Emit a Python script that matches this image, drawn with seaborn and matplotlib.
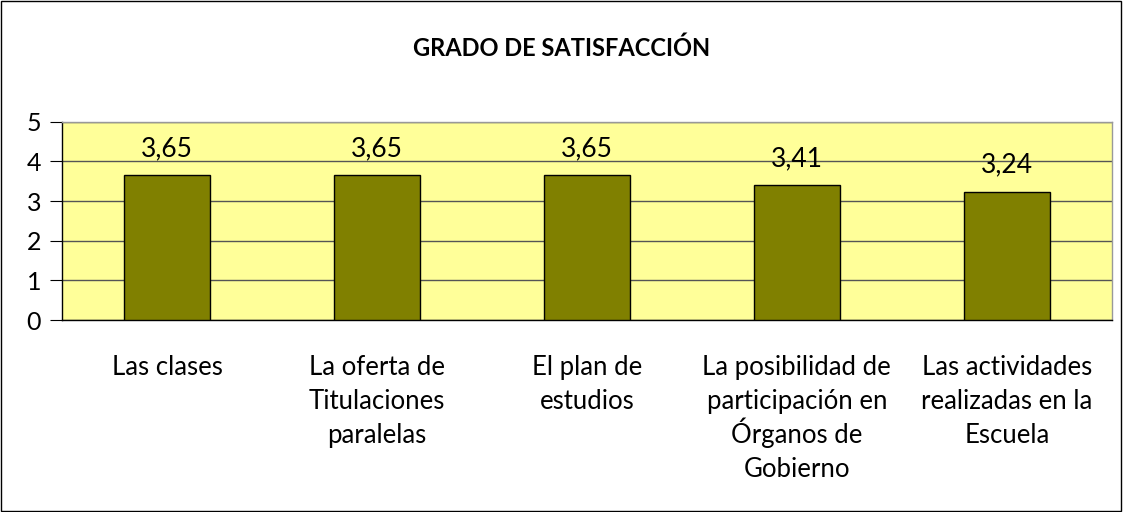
import numpy as np
import pandas as pd
import matplotlib
matplotlib.use("Agg")
import matplotlib.pyplot as plt
import seaborn as sns

# Datos del gráfico
categorias = [
    "Las clases",
    "La oferta de\nTitulaciones\nparalelas",
    "El plan de\nestudios",
    "La posibilidad de\nparticipación en\nÓrganos de\nGobierno",
    "Las actividades\nrealizadas en la\nEscuela",
]
valores = [3.65, 3.65, 3.65, 3.41, 3.24]
ticks_y = [0, 1, 2, 3, 4, 5]

df = pd.DataFrame({"Categoria": categorias, "Valor": valores})

sns.set_style("white")
plt.rcParams["font.family"] = ["Lato", "DejaVu Sans"]
plt.rcParams["text.color"] = "black"
plt.rcParams["xtick.color"] = "black"
plt.rcParams["ytick.color"] = "black"

fig = plt.figure(figsize=(11.23, 5.12), dpi=100)
ax = fig.add_axes([0.0552, 0.375, 0.9348, 0.387])

sns.barplot(data=df, x="Categoria", y="Valor", color="#808000", saturation=1,
            edgecolor="black", linewidth=1, width=0.41, ax=ax, zorder=3)

ax.set_facecolor("#FFFF99")
ax.set_ylim(0, 5)
ax.set_xlim(-0.5, 4.5)
ax.set_yticks(ticks_y)
ax.set_yticklabels([str(t) for t in ticks_y], fontsize=18)
ax.yaxis.grid(True, color="#555555", linewidth=1)
ax.set_axisbelow(True)
ax.set_xlabel("")
ax.set_ylabel("")

# Ticks del eje x en los límites de categoría; etiquetas escritas línea a línea
ax.set_xticks(np.arange(-0.5, 5, 1), minor=True)
ax.set_xticklabels([])
ax.tick_params(axis="x", which="major", length=0)
ax.tick_params(axis="x", which="minor", length=8, color="#555555", direction="out")
ax.tick_params(axis="y", length=9, color="black", direction="out", left=True, pad=6)

for i, cat in enumerate(categorias):
    for j, linea in enumerate(cat.split("\n")):
        ax.annotate(linea, xy=(i, 0), xycoords=("data", "axes fraction"),
                    xytext=(0, -55 - 34 * j), textcoords="offset pixels",
                    ha="center", va="baseline", fontsize=18.5, annotation_clip=False)

for s in ["top", "right"]:
    ax.spines[s].set_color("#999999")
for s in ["left", "bottom"]:
    ax.spines[s].set_color("black")
for s in ax.spines.values():
    s.set_linewidth(1)

# Etiquetas de valor con coma decimal
for cont in ax.containers:
    ax.bar_label(cont, labels=[f"{v:.2f}".replace(".", ",") for v in valores],
                 padding=10, fontsize=19)

fig.text(0.5, 0.906, "GRADO DE SATISFACCIÓN", ha="center", va="center",
         fontsize=17, fontweight="bold")

# Borde exterior
fig.patches.append(plt.Rectangle((0.001, 0.001), 0.997, 0.997, transform=fig.transFigure,
                                 fill=False, edgecolor="black", linewidth=1))

fig.savefig("out.png", dpi=100)
